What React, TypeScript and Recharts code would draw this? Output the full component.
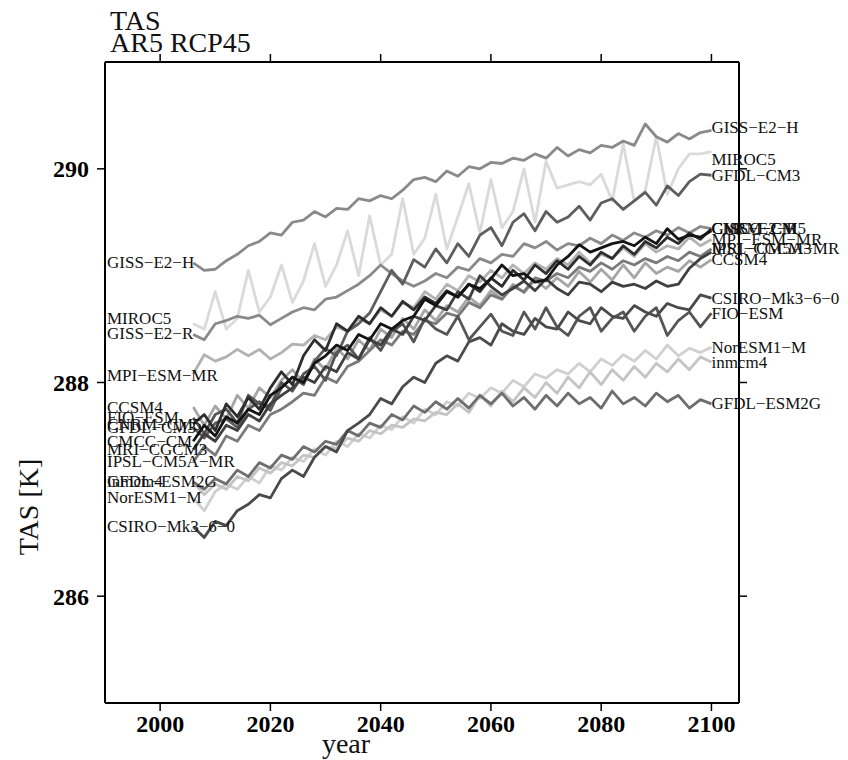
import React from 'react';
import { ComposedChart, Line, XAxis, YAxis, ReferenceDot } from 'recharts';

const years: number[] = [
  2006, 2008, 2010, 2012, 2014, 2016, 2018, 2020,
  2022, 2024, 2026, 2028, 2030, 2032, 2034, 2036,
  2038, 2040, 2042, 2044, 2046, 2048, 2050, 2052,
  2054, 2056, 2058, 2060, 2062, 2064, 2066, 2068,
  2070, 2072, 2074, 2076, 2078, 2080, 2082, 2084,
  2086, 2088, 2090, 2092, 2094, 2096, 2098, 2100,
];

const xTicks: number[] = [2000, 2020, 2040, 2060, 2080, 2100];
const yTicks: number[] = [286, 288, 290];

const MIROC5 = [
  288.55, 288.5, 288.85, 288.5, 288.6, 289.05, 288.66, 288.8,
  289.1, 288.75, 288.95, 289.3, 288.9, 289.1, 289.42, 289.0,
  289.56, 289.1, 289.2, 289.72, 289.2, 289.35, 289.76, 289.25,
  289.55, 289.86, 289.4, 289.9, 289.45, 289.6, 290.0, 289.5,
  290.07, 289.82, 289.85, 289.88, 289.85, 289.95, 289.7, 290.23,
  289.7, 289.8, 290.3, 289.76, 290.0, 290.14, 290.14, 290.16,
];
const NorESM1_M = [
  286.92, 286.8, 286.98, 287.05, 287.0, 287.12, 287.06, 287.22,
  287.18, 287.3, 287.26, 287.38, 287.32, 287.45, 287.4, 287.52,
  287.48, 287.6, 287.56, 287.68, 287.62, 287.75, 287.7, 287.82,
  287.78, 287.9, 287.85, 287.95, 287.9, 288.02, 287.96, 288.08,
  288.04, 288.12, 288.08, 288.18, 288.1, 288.22, 288.16, 288.26,
  288.2, 288.3, 288.22, 288.35, 288.25, 288.32, 288.28, 288.33,
];
const inmcm4 = [
  287.07, 286.95, 287.05, 287.0, 287.12, 287.08, 287.2, 287.15,
  287.25, 287.22, 287.32, 287.3, 287.4, 287.38, 287.48, 287.45,
  287.55, 287.52, 287.6, 287.58, 287.66, 287.64, 287.72, 287.7,
  287.8, 287.72, 287.88, 287.78, 287.92, 287.82, 287.95, 287.86,
  288.0, 287.9, 288.05, 287.95, 288.1, 287.98, 288.12, 288.02,
  288.15, 288.05, 288.18, 288.1, 288.22, 288.12, 288.24, 288.19,
];
const MPI_ESM_MR = [
  288.08, 288.26, 288.2, 288.24, 288.31, 288.25, 288.31, 288.22,
  288.28, 288.36, 288.35, 288.44, 288.4, 288.52, 288.48, 288.6,
  288.55, 288.68, 288.62, 288.75, 288.7, 288.85, 288.78, 288.92,
  288.86, 289.0, 288.94, 289.05, 288.98, 289.1, 289.02, 289.12,
  289.06, 289.16, 289.1, 289.22, 289.12, 289.2, 289.16, 289.26,
  289.18, 289.3, 289.22, 289.28, 289.25, 289.36, 289.28, 289.34,
];
const CCSM4 = [
  287.77, 287.6, 287.78, 287.66, 287.88, 287.76, 287.95, 287.86,
  288.02, 288.12, 288.0, 288.22, 288.12, 288.32, 288.22, 288.4,
  288.3, 288.5, 288.42, 288.6, 288.5, 288.68, 288.58, 288.72,
  288.66, 288.8, 288.72, 288.86, 288.78, 288.92, 288.84, 288.96,
  288.88, 288.98, 288.9, 289.04, 288.94, 289.06, 288.96, 289.1,
  288.98, 289.12, 289.02, 289.08, 289.04, 289.14, 289.08, 289.15,
];
const GISS_E2_H = [
  289.12, 289.05, 289.06, 289.14, 289.2, 289.28, 289.32, 289.4,
  289.38, 289.5, 289.52, 289.6, 289.55, 289.63, 289.62, 289.72,
  289.7, 289.75, 289.72, 289.8, 289.9, 289.92, 289.88, 289.98,
  289.93, 290.02, 290.0, 290.06, 290.05, 290.1, 290.08, 290.14,
  290.1, 290.2, 290.12, 290.18, 290.15, 290.22, 290.2, 290.26,
  290.22, 290.42, 290.3, 290.25, 290.33, 290.28, 290.34, 290.36,
];
const GISS_E2_R = [
  288.45, 288.4, 288.55, 288.58, 288.62, 288.6, 288.63, 288.54,
  288.6, 288.66, 288.7, 288.68, 288.78, 288.8, 288.86, 288.92,
  289.0, 289.1, 289.02, 288.95, 288.9, 288.95, 289.02, 288.98,
  289.08, 289.05, 289.16, 289.12, 289.2, 289.18, 289.3, 289.26,
  289.32, 289.24, 289.3, 289.28, 289.35, 289.3, 289.38, 289.33,
  289.4, 289.36, 289.42, 289.38, 289.45, 289.4, 289.46, 289.44,
];
const IPSL_CM5A_MR = [
  287.26, 287.4, 287.32, 287.5, 287.45, 287.6, 287.55, 287.7,
  287.75, 287.82, 287.9, 287.88, 288.05, 288.0, 288.15, 288.2,
  288.3, 288.4, 288.35, 288.48, 288.45, 288.58, 288.55, 288.65,
  288.62, 288.75, 288.7, 288.82, 288.78, 288.9, 288.85, 288.98,
  288.95, 289.02, 288.98, 289.08, 289.04, 289.12, 289.06, 289.14,
  289.1, 289.16, 289.12, 289.18, 289.14, 289.22, 289.18, 289.25,
];
const GFDL_ESM2G = [
  287.07, 287.0, 287.1, 287.05, 287.18, 287.12, 287.25, 287.2,
  287.32, 287.28, 287.4, 287.35, 287.45, 287.42, 287.55, 287.5,
  287.62, 287.58, 287.7, 287.65, 287.78, 287.72, 287.82, 287.75,
  287.85, 287.76, 287.88, 287.8, 287.9, 287.78, 287.86, 287.75,
  287.88, 287.78, 287.9, 287.8, 287.86, 287.76, 287.92, 287.8,
  287.86, 287.78, 287.9, 287.82, 287.88, 287.76, 287.84, 287.8,
];
const GFDL_CM3 = [
  287.58, 287.48, 287.62, 287.66, 287.58, 287.75, 287.82, 287.74,
  287.95, 288.05, 287.98, 288.2, 288.32, 288.25, 288.48, 288.55,
  288.65, 288.85, 289.05, 288.92, 289.15, 289.08, 289.25, 289.12,
  289.3, 289.18, 289.38, 289.45, 289.28, 289.5, 289.58, 289.42,
  289.6, 289.5, 289.55, 289.65, 289.52, 289.68, 289.72, 289.62,
  289.7, 289.78, 289.66, 289.84, 289.75, 289.88, 289.95, 289.94,
];
const FIO_ESM = [
  287.67, 287.52, 287.7, 287.75, 287.62, 287.88, 287.8, 287.78,
  288.0, 287.92, 288.08, 288.15, 288.02, 288.28, 288.35, 288.22,
  288.42, 288.3, 288.48, 288.55, 288.38, 288.6, 288.5, 288.45,
  288.62, 288.4, 288.52, 288.64, 288.48, 288.44, 288.66, 288.5,
  288.7, 288.52, 288.44, 288.62, 288.7, 288.48, 288.6, 288.66,
  288.48, 288.62, 288.7, 288.44, 288.58, 288.66, 288.52, 288.65,
];
const CSIRO_Mk3_6_0 = [
  286.65, 286.55, 286.7, 286.66, 286.8, 286.86, 286.95, 286.92,
  287.1, 287.18, 287.12, 287.3, 287.4, 287.35, 287.55, 287.62,
  287.7, 287.85, 287.8, 287.96, 288.05, 288.0, 288.18, 288.25,
  288.2, 288.38, 288.42, 288.35, 288.55, 288.48, 288.45, 288.6,
  288.52, 288.5, 288.66, 288.58, 288.55, 288.7, 288.62, 288.6,
  288.72, 288.66, 288.62, 288.74, 288.7, 288.68, 288.82, 288.79,
];
const MRI_CGCM3 = [
  287.37, 287.52, 287.45, 287.6, 287.55, 287.7, 287.64, 287.8,
  287.88, 287.95, 288.05, 288.0, 288.15, 288.1, 288.28, 288.22,
  288.4, 288.35, 288.5, 288.45, 288.62, 288.58, 288.72, 288.68,
  288.85, 288.78, 289.0, 288.9, 288.82, 288.88, 288.95, 288.86,
  288.97, 288.88, 288.82, 288.94, 288.92, 288.85, 288.94, 288.9,
  288.92, 288.88, 288.95, 288.9, 288.92, 289.07, 289.16, 289.22,
];
const CNRM_CM5 = [
  287.61, 287.7, 287.55, 287.8, 287.68, 287.86, 287.75, 287.95,
  288.1, 287.98, 288.25, 288.4, 288.3, 288.55, 288.48, 288.62,
  288.55, 288.7, 288.62, 288.76, 288.68, 288.8, 288.74, 288.86,
  288.8, 288.92, 288.85, 288.98, 288.9, 289.05, 288.96, 289.1,
  289.02, 289.14, 289.06, 289.18, 289.1, 289.22, 289.16, 289.28,
  289.2, 289.32, 289.26, 289.36, 289.3, 289.4, 289.34, 289.44,
];
const CMCC_CM = [
  287.45, 287.6, 287.5, 287.68, 287.62, 287.75, 287.7, 287.88,
  287.95, 288.05, 288.0, 288.18, 288.25, 288.35, 288.3, 288.45,
  288.4, 288.55, 288.5, 288.58, 288.62, 288.78, 288.72, 288.85,
  288.8, 288.92, 288.88, 288.97, 289.1, 289.0, 289.02, 288.94,
  288.96, 289.1, 289.18, 289.29, 289.22, 289.26, 289.3, 289.32,
  289.28, 289.36, 289.3, 289.44, 289.34, 289.38, 289.36, 289.42,
];

// drawing order: lighter first, darker on top
const models: string[] = [
  'MIROC5', 'NorESM1−M', 'inmcm4', 'MPI−ESM−MR', 'CCSM4', 'GISS−E2−H', 'GISS−E2−R',
  'IPSL−CM5A−MR', 'GFDL−ESM2G', 'GFDL−CM3', 'FIO−ESM', 'CSIRO−Mk3−6−0', 'MRI−CGCM3',
  'CNRM−CM5', 'CMCC−CM',
];
const seriesValues: number[][] = [
  MIROC5, NorESM1_M, inmcm4, MPI_ESM_MR, CCSM4, GISS_E2_H, GISS_E2_R,
  IPSL_CM5A_MR, GFDL_ESM2G, GFDL_CM3, FIO_ESM, CSIRO_Mk3_6_0, MRI_CGCM3,
  CNRM_CM5, CMCC_CM,
];
const lineColors: string[] = [
  '#dadada', '#d0d0d0', '#c4c4c4', '#b2b2b2', '#a6a6a6', '#8a8a8a', '#8a8a8a',
  '#7a7a7a', '#6e6e6e', '#5e5e5e', '#555555', '#4a4a4a', '#404040',
  '#2e2e2e', '#141414',
];

// label positions (K) at start (left edge) and end (2100)
const leftLabelValues: number[] = [
  288.60, 286.92, 287.07, 288.07, 287.77, 289.12, 288.46,
  287.26, 287.07, 287.58, 287.67, 286.65, 287.37,
  287.61, 287.45,
];
const rightLabelValues: number[] = [
  290.09, 288.33, 288.19, 289.34, 289.15, 290.39, 289.44,
  289.25, 287.80, 289.94, 288.65, 288.79, 289.25,
  289.44, 289.44,
];
const labelYearLeft = 1990;
const labelYearRight = 2100;

const seriesData = seriesValues.map((vals) => years.map((y, i) => ({ year: y, v: vals[i] })));

const FONT = "'Liberation Serif', 'DejaVu Serif', serif";

const makeLabel = (text: string, dx: number) => (props: any) => (
  <text
    x={props.cx + dx}
    y={props.cy}
    dominantBaseline="central"
    textAnchor="start"
    fontFamily={FONT}
    fontSize={17}
    fill="#111"
  >
    {text}
  </text>
);

export default function App() {
  const axisLine = { stroke: '#000', strokeWidth: 2 };
  const tickLine = { stroke: '#000', strokeWidth: 1.5 };
  const tickStyle = { fill: '#000', fontSize: 24, fontWeight: 'bold', fontFamily: FONT };
  return (
    <div style={{ position: 'absolute', left: 0, top: 0, width: 848, height: 760, background: '#fff' }}>
      <ComposedChart
        width={848}
        height={760}
        margin={{ top: 52, right: 99, bottom: 0, left: 0 }}
      >
        <XAxis
          xAxisId="bottom"
          type="number"
          dataKey="year"
          domain={[1990, 2105]}
          ticks={xTicks}
          allowDataOverflow
          height={57}
          axisLine={axisLine}
          tickLine={tickLine}
          tickSize={8}
          tickMargin={4}
          tick={tickStyle}
        />
        <XAxis
          xAxisId="top"
          orientation="top"
          type="number"
          dataKey="year"
          domain={[1990, 2105]}
          ticks={xTicks}
          allowDataOverflow
          height={10}
          axisLine={axisLine}
          tickLine={tickLine}
          tickSize={8}
          tickFormatter={() => ''}
        />
        <YAxis
          yAxisId="left"
          type="number"
          domain={[285, 291]}
          ticks={yTicks}
          allowDataOverflow
          width={105}
          axisLine={axisLine}
          tickLine={tickLine}
          tickSize={8}
          tickMargin={8}
          tick={tickStyle}
        />
        <YAxis
          yAxisId="right"
          orientation="right"
          type="number"
          domain={[285, 291]}
          ticks={yTicks}
          allowDataOverflow
          width={10}
          axisLine={axisLine}
          tickLine={tickLine}
          tickSize={8}
          tickFormatter={() => ''}
        />
        {seriesData.map((d, i) => (
          <Line
            key={models[i]}
            data={d}
            xAxisId="bottom"
            yAxisId="left"
            dataKey="v"
            stroke={lineColors[i]}
            strokeWidth={2.8}
            dot={false}
            activeDot={false}
            isAnimationActive={false}
            strokeLinejoin="round"
          />
        ))}
        {models.map((m, i) => (
          <ReferenceDot
            key={'L' + m}
            xAxisId="bottom"
            yAxisId="left"
            x={labelYearLeft}
            y={leftLabelValues[i]}
            r={0}
            ifOverflow="visible"
            shape={makeLabel(m, 2)}
          />
        ))}
        {models.map((m, i) => (
          <ReferenceDot
            key={'R' + m}
            xAxisId="bottom"
            yAxisId="left"
            x={labelYearRight}
            y={rightLabelValues[i]}
            r={0}
            ifOverflow="visible"
            shape={makeLabel(m, 0)}
          />
        ))}
      </ComposedChart>
      <svg
        width={848}
        height={760}
        style={{ position: 'absolute', left: 0, top: 0, pointerEvents: 'none' }}
      >
        <text x={110} y={30} fontFamily={FONT} fontSize={28} fill="#111">TAS</text>
        <text x={110} y={52} fontFamily={FONT} fontSize={28} fill="#111">AR5 RCP45</text>
        <text x={346} y={753} textAnchor="middle" fontFamily={FONT} fontSize={28} fill="#111">year</text>
        <text
          x={38}
          y={507}
          textAnchor="middle"
          transform="rotate(-90 38 507)"
          fontFamily={FONT}
          fontSize={28}
          fill="#111"
        >
          TAS [K]
        </text>
      </svg>
    </div>
  );
}
